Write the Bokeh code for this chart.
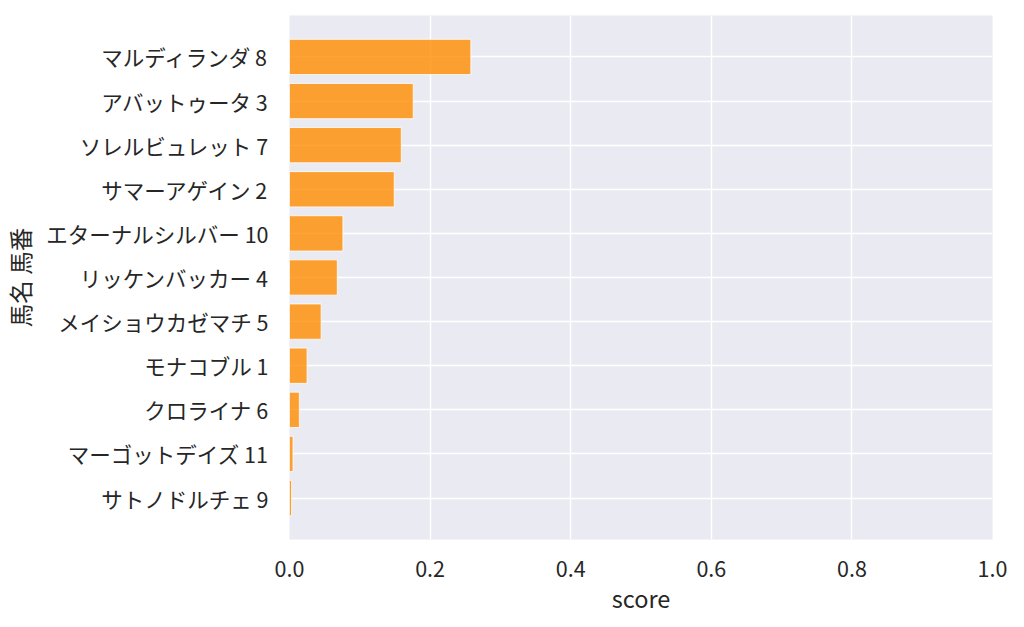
from bokeh.plotting import figure
from bokeh.models import Range1d, FixedTicker, ColumnDataSource
from bokeh.embed import file_html
from bokeh.resources import INLINE

horses = ["マルディランダ 8", "アバットゥータ 3", "ソレルビュレット 7", "サマーアゲイン 2",
          "エターナルシルバー 10", "リッケンバッカー 4", "メイショウカゼマチ 5", "モナコブル 1",
          "クロライナ 6", "マーゴットデイズ 11", "サトノドルチェ 9"]
scores = [0.258, 0.176, 0.159, 0.149, 0.076, 0.068, 0.045, 0.025, 0.014, 0.005, 0.003]
x_ticks = [0.0, 0.2, 0.4, 0.6, 0.8, 1.0]

pos = list(range(len(horses)))
src = ColumnDataSource(dict(y=pos, score=scores))

FONT = "Noto Sans CJK JP"
TXT = "#262626"

p = figure(output_backend="svg", toolbar_location=None,
           frame_width=703, frame_height=524,
           min_border_left=286, min_border_top=15, min_border_right=20, min_border_bottom=78,
           x_range=Range1d(0, 1), y_range=Range1d(len(horses) - 1 + 0.94, -0.94),
           background_fill_color="#eaeaf2", border_fill_color="white",
           outline_line_color=None)

p.hbar(y="y", right="score", left=0, height=0.8, source=src,
       fill_color="#ff8c00", fill_alpha=0.8, line_color="white", line_alpha=0.8, line_width=1)

p.xaxis.ticker = FixedTicker(ticks=x_ticks)
p.xaxis.major_label_overrides = {t: f"{t:.1f}" for t in x_ticks}
p.yaxis.ticker = FixedTicker(ticks=pos)
p.yaxis.major_label_overrides = {i: h for i, h in enumerate(horses)}

for ax in (p.xaxis, p.yaxis):
    ax.axis_line_color = None
    ax.major_tick_line_color = None
    ax.minor_tick_line_color = None
    ax.major_tick_out = 0
    ax.major_tick_in = 0
    ax.minor_tick_out = 0
    ax.minor_tick_in = 0
    ax.major_label_text_font = FONT
    ax.major_label_text_font_size = "21.5px"
    ax.major_label_text_color = TXT
    ax.axis_label_text_font = FONT
    ax.axis_label_text_font_size = "23.5px"
    ax.axis_label_text_font_style = "normal"
    ax.axis_label_text_color = TXT

p.xaxis.axis_label = "score"
p.yaxis.axis_label = "馬名 馬番"
p.yaxis.major_label_standoff = 21
p.xaxis.major_label_standoff = 21
p.yaxis.axis_label_standoff = 6
p.xaxis.axis_label_standoff = 1

p.xgrid.grid_line_color = "white"
p.ygrid.grid_line_color = "white"
p.xgrid.grid_line_width = 1.4
p.ygrid.grid_line_width = 1.4
p.ygrid.ticker = FixedTicker(ticks=pos)

open("out.html", "w").write(file_html(p, INLINE))
